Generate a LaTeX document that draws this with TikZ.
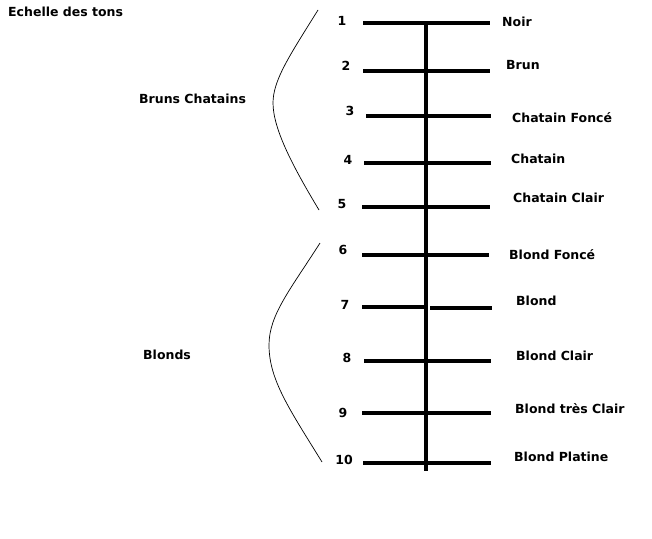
\documentclass[tikz,border=0pt]{standalone}
\usepackage{fontspec}
\setmainfont{DejaVu Sans}
\begin{document}
\begin{tikzpicture}[x=1pt,y=-1pt,
  rung/.style={line width=4pt},
  axis/.style={line width=4.5pt},
  brace/.style={line width=0.7pt},
  lbl/.style={anchor=west,inner sep=0pt,font=\bfseries\fontsize{12.5}{14}\selectfont},
  num/.style={anchor=center,inner sep=0pt,font=\bfseries\fontsize{12.5}{14}\selectfont}]
\useasboundingbox (0,0) rectangle (652,538);
% axis
\coordinate (top) at (426,23);
\coordinate (bot) at (426,471);
\draw[axis] (top) -- (bot);
% rungs
\foreach \i/\xl/\xr/\y in {1/363/490/23,2/363/490/71,3/366/491/116,4/364/491/163,5/362/490/207,6/362/489/255,8/364/491/361,9/362/491/413,10/363/491/463}{
  \coordinate (l\i) at (\xl,\y);
  \coordinate (r\i) at (\xr,\y);
  \draw[rung] (l\i) -- (r\i);
}
\coordinate (l7) at (362,307);
\coordinate (m7a) at (426,307);
\coordinate (m7b) at (430,308);
\coordinate (r7) at (492,308);
\draw[rung] (l7) -- (m7a);
\draw[rung] (m7b) -- (r7);
% numbers
\node[num] (n1) at (342,21) {1};
\node[num] (n2) at (346,66) {2};
\node[num] (n3) at (350,111) {3};
\node[num] (n4) at (348,160) {4};
\node[num] (n5) at (342,204) {5};
\node[num] (n6) at (343,250) {6};
\node[num] (n7) at (345,305) {7};
\node[num] (n8) at (347,358) {8};
\node[num] (n9) at (343,413) {9};
\node[num] (n10) at (344,460) {10};
% labels
\node[lbl] (t1) at (502,22) {Noir};
\node[lbl] (t2) at (506,65) {Brun};
\node[lbl] (t3) at (512,118) {Chatain Foncé};
\node[lbl] (t4) at (511,159) {Chatain};
\node[lbl] (t5) at (513,198) {Chatain Clair};
\node[lbl] (t6) at (509,255) {Blond Foncé};
\node[lbl] (t7) at (516,301) {Blond};
\node[lbl] (t8) at (516,356) {Blond Clair};
\node[lbl] (t9) at (515,409) {Blond très Clair};
\node[lbl] (t10) at (514,457) {Blond Platine};
% left texts
\node[lbl] (title) at (8,12) {Echelle des tons};
\node[lbl] (g1) at (139,99) {Bruns Chatains};
\node[lbl] (g2) at (143,355) {Blonds};
% braces
\coordinate (b1s) at (318,10);
\coordinate (b1m) at (273,103);
\coordinate (b1e) at (319,210);
\draw[brace] (b1s) .. controls (290,55) and (273,80) .. (b1m) .. controls (273,130) and (295,170) .. (b1e);
\coordinate (b2s) at (320,243);
\coordinate (b2m) at (269,345);
\coordinate (b2e) at (322,462);
\draw[brace] (b2s) .. controls (290,290) and (269,315) .. (b2m) .. controls (269,380) and (290,410) .. (b2e);
\end{tikzpicture}
\end{document}
